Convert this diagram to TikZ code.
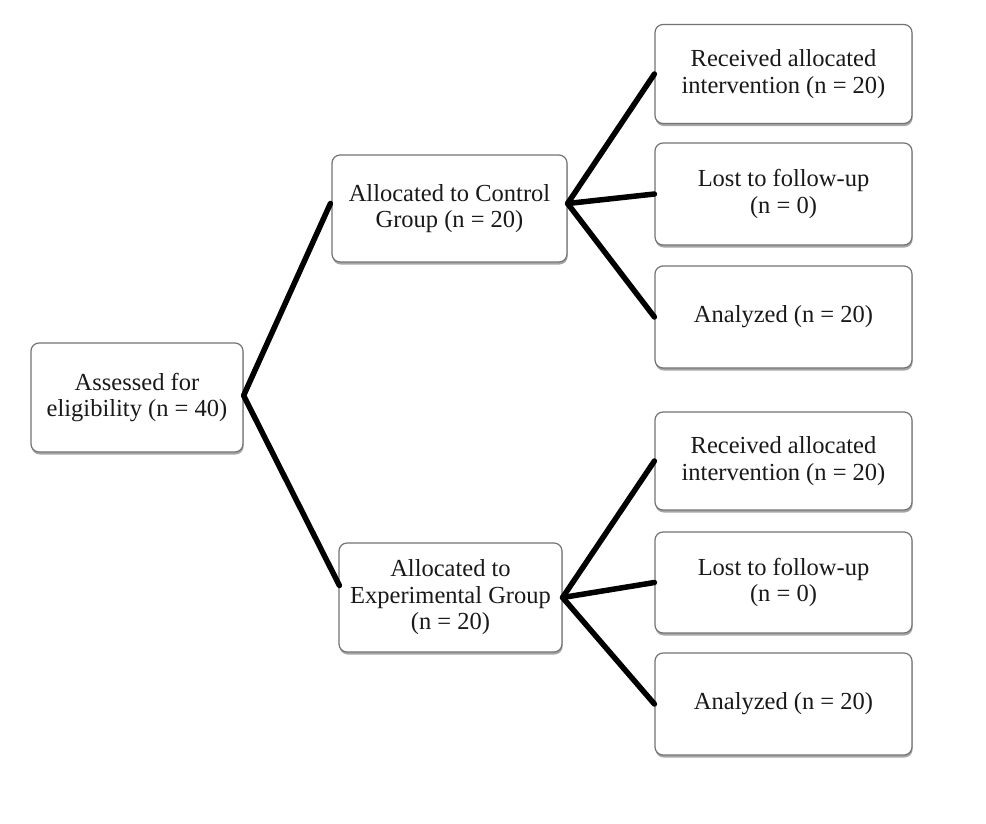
\documentclass[tikz,border=0pt]{standalone}
\usepackage{fontspec}
\setmainfont{Liberation Serif}
\usetikzlibrary{shadows,calc}
\tikzset{
  box/.style={draw=black!55, line width=1.2pt, rounded corners=8pt, fill=white,
    align=center, inner sep=0pt, text=black!90,
    font=\fontsize{24.5}{26.5}\selectfont,
    drop shadow={shadow xshift=0.6pt, shadow yshift=-2.5pt, fill=black, opacity=0.35}},
  link/.style={line width=5.5pt, line cap=round, line join=round, black}
}
\begin{document}
\begin{tikzpicture}[x=1pt,y=-1pt]
\useasboundingbox (0,0) rectangle (986,823);
\node[box, minimum width=212pt, minimum height=109pt] (a) at (137,397.5) {Assessed for\\eligibility (n = 40)};
\node[box, minimum width=235pt, minimum height=107pt] (c) at (449.5,208.5) {Allocated to Control\\Group (n = 20)};
\node[box, minimum width=223pt, minimum height=109pt] (e) at (450.5,597.5) {Allocated to\\Experimental Group\\(n = 20)};
\node[box, minimum width=257pt, minimum height=99pt] (r1) at (783.5,74) {Received allocated\\intervention (n = 20)};
\node[box, minimum width=257pt, minimum height=102pt] (r2) at (783.5,194) {Lost to follow-up\\(n = 0)};
\node[box, minimum width=257pt, minimum height=102pt] (r3) at (783.5,317) {Analyzed (n = 20)};
\node[box, minimum width=257pt, minimum height=98pt] (r4) at (783.5,461) {Received allocated\\intervention (n = 20)};
\node[box, minimum width=257pt, minimum height=101pt] (r5) at (783.5,582.5) {Lost to follow-up\\(n = 0)};
\node[box, minimum width=257pt, minimum height=102pt] (r6) at (783.5,704) {Analyzed (n = 20)};
\coordinate (ao) at ($(a.east)+(0,-2)$);
\coordinate (ci) at ($(c.west)+(-1,-5)$);
\coordinate (ei) at ($(e.west)+(1,-12)$);
\coordinate (co) at ($(c.east)+(0,-5)$);
\coordinate (eo) at (e.east);
\draw[link] (ci) -- (ao) -- (ei);
\draw[link] (r1.west) -- (co) -- (r3.west);
\draw[link] (co) -- (r2.west);
\draw[link] (r4.west) -- (eo) -- (r6.west);
\draw[link] (eo) -- (r5.west);
\end{tikzpicture}
\end{document}
